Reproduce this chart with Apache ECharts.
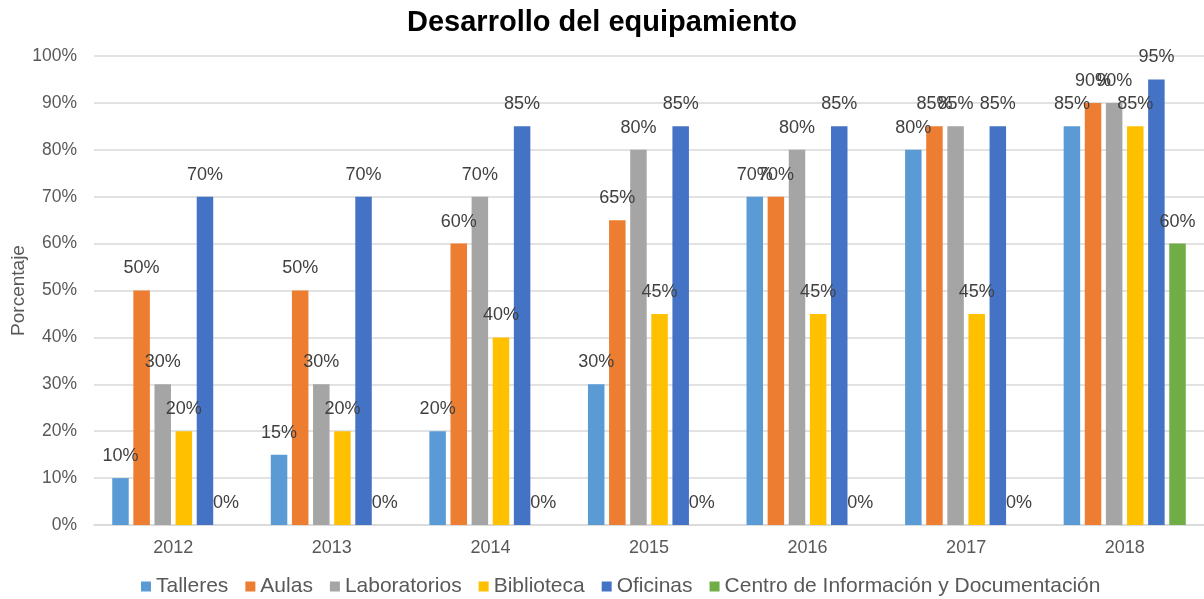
<!DOCTYPE html>
<html><head><meta charset="utf-8">
<script src="https://cdn.jsdelivr.net/npm/echarts@6/dist/echarts.min.js"></script>
<style>html,body{margin:0;padding:0;background:#fff}#c{width:1204px;height:599px}</style>
</head><body><div id="c"></div>
<script>
const years = ['2012','2013','2014','2015','2016','2017','2018'];
const seriesNames = ['Talleres','Aulas','Laboratorios','Biblioteca','Oficinas','Centro de Información y Documentación'];
const talleres = [10,15,20,30,70,80,85];
const aulas = [50,50,60,65,70,85,90];
const laboratorios = [30,30,70,80,80,85,90];
const biblioteca = [20,20,40,45,45,45,85];
const oficinas = [70,70,85,85,85,85,95];
const centro = [0,0,0,0,0,0,60];
const colors = ['#5B9BD5','#ED7D31','#A5A5A5','#FFC000','#4472C4','#70AD47'];
const values = [talleres,aulas,laboratorios,biblioteca,oficinas,centro];
const FONT = 'Liberation Sans, Arial, sans-serif';
const chart = echarts.init(document.getElementById('c'));
chart.setOption({
  animation:false,
  color:colors,
  title:{text:'Desarrollo del equipamiento',left:'center',top:3,textStyle:{fontFamily:FONT,fontSize:29,fontWeight:'bold',color:'#000'}},
  legend:{top:571,left:136,itemWidth:10,itemHeight:10,itemGap:17,icon:'rect',textStyle:{fontFamily:FONT,fontSize:21,color:'#595959'},data:seriesNames},
  grid:{left:94,right:0,top:56,bottom:74,containLabel:false,outerBoundsMode:'none'},
  xAxis:{type:'category',data:years,axisLine:{lineStyle:{color:'#D9D9D9',width:1.5}},axisTick:{show:false},axisLabel:{fontFamily:FONT,fontSize:18,color:'#595959',margin:14}},
  yAxis:{type:'value',min:0,max:100,interval:10,name:'Porcentaje',nameLocation:'middle',nameGap:66,nameMoveOverlap:false,nameTextStyle:{fontFamily:FONT,fontSize:19,color:'#595959'},
    axisLine:{show:false},axisTick:{show:false},splitLine:{lineStyle:{color:'#D9D9D9',width:1.5}},
    axisLabel:{formatter:'{value}%',fontFamily:FONT,fontSize:17.5,color:'#595959',margin:17}},
  series:values.map((v,i)=>({name:seriesNames[i],type:'bar',data:v,barGap:'28%',barCategoryGap:'23%',
    label:{show:true,position:'top',distance:13,formatter:'{c}%',fontFamily:FONT,fontSize:18,color:'#404040'}}))
});
</script></body></html>
